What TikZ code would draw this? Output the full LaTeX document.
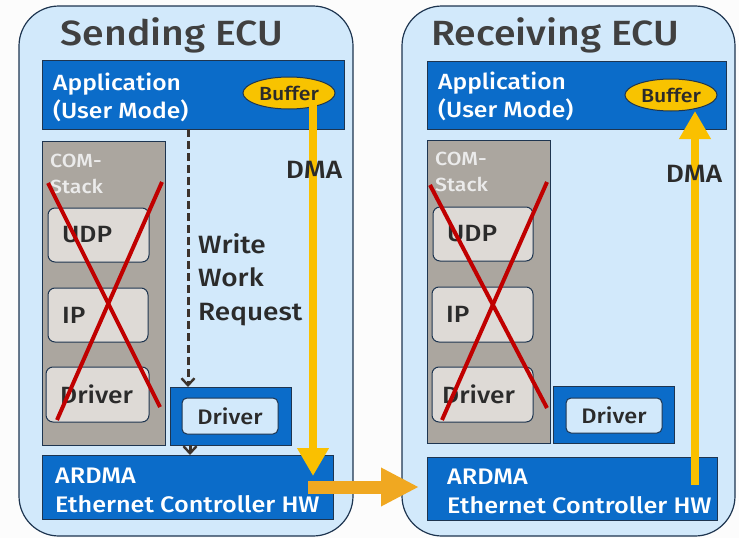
\documentclass[tikz,border=0pt]{standalone}
\usepackage{fontspec}
\setmainfont{Fira Sans Medium}[FakeStretch=1.12]
\usetikzlibrary{arrows.meta,shapes.geometric}
\definecolor{ecufill}{HTML}{D2E9FB}
\definecolor{eculine}{HTML}{1E3550}
\definecolor{appblue}{HTML}{0B6CC9}
\definecolor{stackgray}{HTML}{ABA69F}
\definecolor{layergray}{HTML}{DEDAD6}
\definecolor{bufyellow}{HTML}{F8C300}
\definecolor{dmayellow}{HTML}{FAC000}
\definecolor{xfer}{HTML}{F0A821}
\definecolor{crossred}{HTML}{C00000}
\definecolor{ink}{HTML}{2B2B2B}
\definecolor{reqink}{HTML}{3C332C}
\definecolor{paper}{HTML}{FCFCFC}
\tikzset{
  ecu/.style={draw=eculine, line width=1.2pt, fill=ecufill, rounded corners=40pt, anchor=north west, inner sep=0pt, outer sep=0pt},
  bar/.style={draw=eculine, line width=1pt, fill=appblue, anchor=north west, inner sep=0pt, outer sep=0pt},
  stackbox/.style={draw=eculine, line width=1pt, fill=stackgray, anchor=north west, inner sep=0pt, outer sep=0pt},
  layer/.style={draw=eculine, line width=1pt, fill=layergray, rounded corners=7pt, anchor=north west, inner sep=0pt, outer sep=0pt},
  drvin/.style={draw=eculine, line width=1pt, fill=ecufill, rounded corners=5pt, anchor=north west, inner sep=0pt, outer sep=0pt},
  buffer/.style={ellipse, draw=eculine, line width=1pt, fill=bufyellow, minimum width=92pt, minimum height=32pt, inner sep=0pt, text=ink, font=\fontsize{19}{19}\selectfont},
  title/.style={anchor=base, text=ink!90, font=\fontsize{35}{35}\selectfont, inner sep=0pt},
  whitetxt/.style={anchor=base west, text=white, font=\fontsize{22}{28}\selectfont, inner sep=0pt, align=left},
  hwtxt/.style={anchor=base west, text=white, font=\fontsize{22.5}{29}\selectfont, inner sep=0pt, align=left},
  stacktxt/.style={anchor=base west, text=white!92!black, font=\fontsize{19}{26}\selectfont, inner sep=0pt, align=left},
  layertxt/.style={anchor=west, text=ink, font=\fontsize{23.5}{23.5}\selectfont, inner sep=0pt},
  drvtxt/.style={anchor=center, text=ink, font=\fontsize{21}{21}\selectfont, inner sep=0pt},
  darktxt/.style={anchor=base west, text=ink, font=\fontsize{25}{33.5}\selectfont, inner sep=0pt, align=left},
  dmatxt/.style={anchor=base, text=ink, font=\fontsize{25}{25}\selectfont, inner sep=0pt},
  cross/.style={draw=crossred, line width=4pt},
  req/.style={draw=reqink, line width=3pt, dash pattern=on 8pt off 4pt, -{Straight Barb[length=7pt,width=13pt,line width=2.4pt]}},
  dma/.style={draw=dmayellow, line width=8pt, -{Triangle[length=28pt,width=30pt]}},
  transfer/.style={draw=xfer, line width=13pt, -{Triangle[length=38pt,width=36pt]}}
}
\begin{document}
\begin{tikzpicture}[x=1pt,y=-1pt]
\useasboundingbox[fill=paper] (0,0) rectangle (739,538);

% ---------------- Sending ECU ----------------
\node[ecu, minimum width=334pt, minimum height=530pt] (sEcu) at (19,6) {};
\node[title] (sTitle) at (172,45) {Sending ECU};
\node[bar, minimum width=302pt, minimum height=69pt] (sApp) at (42,60) {};
\node[whitetxt] (sAppTxt) at (53,118) {Application\\(User Mode)};
\node[buffer] (sBuf) at (289,93) {Buffer};
\node[stackbox, minimum width=123pt, minimum height=304pt] (sStack) at (42,141) {};
\node[stacktxt] (sStackTxt) at (50,193) {COM-\\Stack};
\node[layer, minimum width=101pt, minimum height=54pt] (sUdp) at (48,208) {};
\node[layertxt] at ([xshift=14pt]sUdp.west) {UDP};
\node[layer, minimum width=100pt, minimum height=54pt] (sIp) at (48,288) {};
\node[layertxt] at ([xshift=14pt]sIp.west) {IP};
\node[layer, minimum width=103pt, minimum height=55pt] (sDrv) at (46,367) {};
\node[layertxt] at ([xshift=14pt]sDrv.west) {Driver};
\draw[cross] (48,183) -- (160,407);
\draw[cross] (162,182) -- (57,420);
\node[bar, minimum width=121pt, minimum height=58pt] (sDrvBox) at (170,387) {};
\node[drvin, minimum width=96pt, minimum height=36pt] (sDrvIn) at (182,398) {};
\node[drvtxt] at (sDrvIn.center) {Driver};
\node[bar, minimum width=291pt, minimum height=64pt] (sHw) at (42,455) {};
\node[hwtxt] (sHwTxt) at (55,512) {ARDMA\\Ethernet Controller HW};
\node[darktxt] (sReq) at (198,320) {Write\\Work\\Request};
% work request path
\coordinate (sWr) at (188,129);
\draw[req] (sWr) -- (sWr |- sDrvBox.north);
\coordinate (sWr2) at (190,445);
\draw[req] (sWr2) -- (sWr2 |- sHw.north);
% DMA into the controller
\coordinate (sDmaTop) at (313,105);
\coordinate (sDmaTip) at (313,476);
\draw[dma] (sDmaTop) -- (sDmaTip);
\node[dmatxt] (sDmaTxt) at (314,178) {DMA};

% ---------------- Receiving ECU ----------------
\node[ecu, minimum width=333pt, minimum height=530pt] (rEcu) at (402,6) {};
\node[title] (rTitle) at (555,45) {Receiving ECU};
\node[bar, minimum width=299pt, minimum height=68pt] (rApp) at (427,61) {};
\node[whitetxt] (rAppTxt) at (438,117) {Application\\(User Mode)};
\node[buffer] (rBuf) at (671,95) {Buffer};
\node[stackbox, minimum width=123pt, minimum height=303pt] (rStack) at (427,140) {};
\node[stacktxt] (rStackTxt) at (435,191) {COM-\\Stack};
\node[layer, minimum width=100pt, minimum height=54pt] (rUdp) at (433,207) {};
\node[layertxt] at ([xshift=14pt]rUdp.west) {UDP};
\node[layer, minimum width=101pt, minimum height=55pt] (rIp) at (432,287) {};
\node[layertxt] at ([xshift=14pt]rIp.west) {IP};
\node[layer, minimum width=101pt, minimum height=55pt] (rDrv) at (432,367) {};
\node[layertxt] at ([xshift=10pt]rDrv.west) {Driver};
\draw[cross] (430,185) -- (547,408);
\draw[cross] (547,182) -- (442,420);
\node[bar, minimum width=121pt, minimum height=57pt] (rDrvBox) at (553,386) {};
\node[drvin, minimum width=96pt, minimum height=35pt] (rDrvIn) at (566,398) {};
\node[drvtxt] at (rDrvIn.center) {Driver};
\node[bar, minimum width=290pt, minimum height=63pt] (rHw) at (427,457) {};
\node[hwtxt] (rHwTxt) at (447,513) {ARDMA\\Ethernet Controller HW};
% DMA out of the controller
\coordinate (rDmaBot) at (695,485);
\coordinate (rDmaTip) at (695,111);
\draw[dma] (rDmaBot) -- (rDmaTip);
\node[dmatxt] (rDmaTxt) at (694,182) {DMA};

% ---------------- link between the controllers ----------------
\coordinate (linkStart) at (308,487);
\coordinate (linkEnd) at (419,487);
\draw[transfer] (linkStart) -- (linkEnd);
\end{tikzpicture}
\end{document}
